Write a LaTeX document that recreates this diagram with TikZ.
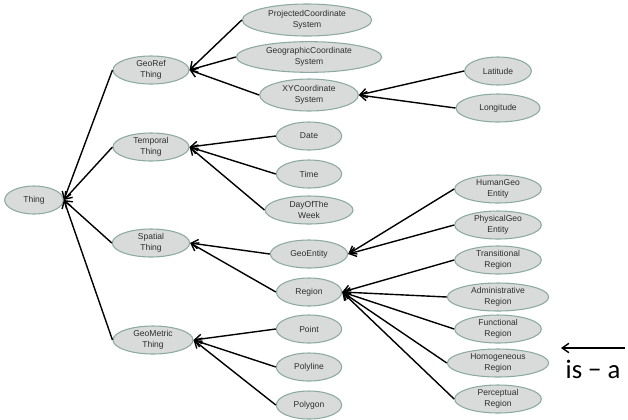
\documentclass[tikz,border=0pt]{standalone}
\usepackage{fontspec}
\setmainfont{Liberation Sans}
\newfontfamily\isafont{Carlito}
\usepackage{tikz}
\usetikzlibrary{positioning,arrows.meta,shapes.geometric}
\definecolor{ontfill}{RGB}{217,219,218}
\definecolor{ontedge}{RGB}{140,170,162}
\definecolor{onttext}{RGB}{45,45,45}

\begin{document}
\begin{tikzpicture}[
  x=0.75pt, y=-0.75pt,
  concept/.style={ellipse, draw=ontedge, fill=ontfill, line width=0.8pt,
    inner sep=0pt, align=center, text=onttext,
    font=\fontsize{6.4}{8.2}\selectfont, minimum height=21pt},
  isarr/.style={-{Straight Barb[length=5pt,width=7pt]}, line width=1.05pt, black}
]
  \useasboundingbox (0,0) rectangle (628,419);

  % --- root and first level ---
  \node[concept, minimum width=44pt] (thing)     at (34,200)  {Thing};
  \node[concept, minimum width=57pt] (georef)    at (151,70)  {GeoRef\\Thing};
  \node[concept, minimum width=57pt] (temporal)  at (151,147) {Temporal\\Thing};
  \node[concept, minimum width=58pt] (spatial)   at (151,243) {Spatial\\Thing};
  \node[concept, minimum width=60pt] (geometric) at (153,340) {GeoMetric\\Thing};

  % --- second level ---
  \node[concept, minimum width=97pt, minimum height=24pt] (projected)  at (307,20) {ProjectedCoordinate\\System};
  \node[concept, minimum width=109pt, minimum height=23pt] (geographic) at (309,57) {GeographicCoordinate\\System};
  \node[concept, minimum width=74pt, minimum height=24pt] (xycoord)    at (309,95) {XYCoordinate\\System};
  \node[concept, minimum width=49pt] (date)      at (309,136) {Date};
  \node[concept, minimum width=49pt] (time)      at (309,174) {Time};
  \node[concept, minimum width=66pt] (dayweek)   at (309,210) {DayOfThe\\Week};
  \node[concept, minimum width=58pt] (geoentity) at (309,254) {GeoEntity};
  \node[concept, minimum width=49pt] (region)    at (309,292) {Region};
  \node[concept, minimum width=49pt] (point)     at (309,329) {Point};
  \node[concept, minimum width=49pt] (polyline)  at (309,367) {Polyline};
  \node[concept, minimum width=49pt] (polygon)   at (309,405) {Polygon};

  % --- third level ---
  \node[concept, minimum width=50pt] (latitude)  at (498,71)  {Latitude};
  \node[concept, minimum width=63pt] (longitude) at (498,108) {Longitude};
  \node[concept, minimum width=65pt] (humangeo)  at (498,189) {HumanGeo\\Entity};
  \node[concept, minimum width=65pt] (physgeo)   at (498,225) {PhysicalGeo\\Entity};
  \node[concept, minimum width=65pt] (transreg)  at (498,260) {Transitional\\Region};
  \node[concept, minimum width=76pt] (adminreg)  at (498,297) {Administrative\\Region};
  \node[concept, minimum width=65pt] (funcreg)   at (498,329) {Functional\\Region};
  \node[concept, minimum width=76pt] (homoreg)   at (498,363) {Homogeneous\\Region};
  \node[concept, minimum width=65pt] (percreg)   at (498,399) {Perceptual\\Region};

  % --- is-a links ---
  \foreach \c in {georef,temporal,spatial,geometric}
    \draw[isarr] (\c.west) -- (thing.east);
  \foreach \c in {projected,geographic,xycoord}
    \draw[isarr] (\c.west) -- (georef.east);
  \foreach \c in {latitude,longitude}
    \draw[isarr] (\c.west) -- (xycoord.east);
  \foreach \c in {date,time,dayweek}
    \draw[isarr] (\c.west) -- (temporal.east);
  \foreach \c in {geoentity,region}
    \draw[isarr] (\c.west) -- (spatial.east);
  \foreach \c in {humangeo,physgeo}
    \draw[isarr] (\c.west) -- (geoentity.east);
  \foreach \c in {transreg,adminreg,funcreg,homoreg,percreg}
    \draw[isarr] (\c.west) -- (region.east);
  \foreach \c in {point,polyline,polygon}
    \draw[isarr] (\c.west) -- (geometric.east);

  % --- legend ---
  \coordinate (legfrom) at (625,348);
  \coordinate (legto)   at (561,348);
  \draw[isarr] (legfrom) -- (legto);
  \node[font=\isafont\fontsize{20}{22}\selectfont] (isa) at (593,369) {is − a};
\end{tikzpicture}
\end{document}
